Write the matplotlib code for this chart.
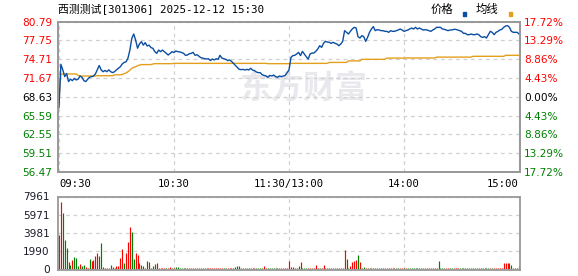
import matplotlib.pyplot as plt
from matplotlib.patches import Rectangle

# one point per minute, 09:30-11:30 then 13:01-15:00 (241 points)
price = [
    66.90, 73.90, 73.00, 71.90, 72.40, 71.10, 71.50, 71.25, 71.60, 71.36,
    71.50, 72.00, 71.80, 71.25, 71.10, 71.50, 71.80, 71.90, 72.00, 72.33,
    73.00, 73.70, 73.00, 72.70, 72.90, 72.70, 73.00, 72.70, 72.55, 72.70,
    73.00, 73.25, 73.50, 73.95, 74.20, 74.30, 74.90, 76.20, 78.10, 78.80,
    77.80, 76.50, 77.20, 77.56, 77.00, 77.40, 76.86, 77.00, 76.60, 76.48,
    75.94, 75.67, 76.20, 75.94, 76.20, 75.94, 75.67, 75.40, 75.67, 75.94,
    75.80, 76.05, 75.94, 75.90, 75.80, 75.67, 75.35, 75.40, 75.60, 75.67,
    75.83, 75.35, 75.45, 75.20, 74.97, 74.90, 74.80, 74.75, 74.80, 74.50,
    74.75, 74.60, 74.80, 74.70, 75.35, 74.90, 74.80, 74.70, 74.50, 74.60,
    74.38, 74.05, 73.73, 73.40, 73.08, 73.03, 73.08, 72.97, 73.08, 72.97,
    73.25, 72.97, 72.87, 72.65, 72.54, 72.54, 72.22, 72.10, 72.00, 71.79,
    72.10, 72.00, 72.16, 71.90, 71.79, 72.00, 71.90, 72.00, 72.10, 72.54,
    72.97, 75.00, 75.30, 75.35, 75.56, 75.83, 75.30, 75.99, 75.56, 75.13,
    74.75, 75.56, 75.72, 75.72, 75.99, 76.37, 76.91, 76.64, 77.29, 77.61,
    77.50, 77.45, 77.29, 77.45, 77.29, 77.18, 76.91, 77.18, 77.61, 79.34,
    79.07, 78.80, 79.23, 79.61, 79.88, 79.77, 78.37, 78.15, 78.53, 78.37,
    77.61, 78.26, 79.07, 79.61, 79.99, 79.34, 79.50, 79.45, 79.34, 79.34,
    79.23, 79.23, 79.07, 79.34, 79.23, 79.23, 79.34, 79.45, 79.61, 79.45,
    79.23, 79.34, 79.45, 79.61, 79.77, 79.61, 79.88, 79.61, 79.77, 79.61,
    79.45, 79.50, 79.45, 79.34, 79.23, 79.45, 79.61, 79.88, 79.88, 79.88,
    79.61, 79.55, 79.45, 79.34, 79.45, 79.45, 79.55, 79.55, 79.45, 79.34,
    79.23, 78.91, 78.91, 78.69, 78.69, 78.80, 78.69, 78.69, 78.80, 78.69,
    78.37, 78.26, 78.37, 78.15, 78.69, 79.23, 79.07, 78.69, 79.07, 79.23,
    79.45, 79.55, 79.88, 80.10, 80.15, 79.88, 79.23, 79.07, 79.07, 79.07,
    78.80,
]

avg = [
    68.30, 72.30, 72.33, 72.33, 72.33, 72.33, 72.33, 72.33, 72.33, 72.33,
    72.10, 72.00, 72.00, 72.00, 72.00, 72.00, 72.00, 72.00, 72.00, 72.00,
    72.05, 72.05, 72.05, 72.05, 72.05, 72.05, 72.05, 72.05, 72.05, 72.20,
    72.20, 72.20, 72.20, 72.25, 72.40, 72.50, 72.70, 72.95, 73.25, 73.40,
    73.50, 73.65, 73.78, 73.85, 73.85, 73.85, 73.85, 73.85, 73.85, 73.95,
    74.00, 74.00, 74.00, 74.00, 74.00, 74.00, 74.00, 74.00, 74.00, 74.00,
    74.05, 74.05, 74.05, 74.05, 74.05, 74.05, 74.05, 74.05, 74.05, 74.05,
    74.05, 74.05, 74.05, 74.05, 74.05, 74.05, 74.05, 74.05, 74.05, 74.05,
    74.05, 74.05, 74.05, 74.05, 74.05, 74.05, 74.05, 74.05, 74.05, 74.05,
    74.05, 74.05, 74.05, 74.05, 74.05, 74.05, 74.05, 74.05, 74.05, 74.05,
    74.05, 74.05, 74.05, 74.05, 74.05, 74.05, 74.05, 74.05, 74.05, 74.00,
    74.00, 74.00, 74.00, 74.00, 74.00, 74.00, 74.00, 74.00, 74.00, 74.00,
    74.00, 74.05, 74.05, 74.05, 74.05, 74.05, 74.05, 74.05, 74.05, 74.05,
    74.05, 74.05, 74.05, 74.05, 74.05, 74.05, 74.05, 74.05, 74.05, 74.05,
    74.05, 74.20, 74.20, 74.20, 74.20, 74.20, 74.20, 74.20, 74.20, 74.20,
    74.20, 74.45, 74.45, 74.45, 74.45, 74.45, 74.45, 74.45, 74.70, 74.70,
    74.70, 74.70, 74.70, 74.70, 74.70, 74.70, 74.70, 74.70, 74.70, 74.70,
    74.70, 74.90, 74.90, 74.90, 74.90, 74.90, 74.90, 74.90, 74.90, 74.90,
    74.90, 74.92, 74.92, 74.92, 74.92, 74.92, 74.92, 74.92, 74.92, 74.92,
    74.92, 74.92, 74.92, 74.92, 74.92, 74.92, 74.92, 75.06, 75.06, 75.06,
    75.06, 75.06, 75.06, 75.06, 75.06, 75.06, 75.06, 75.06, 75.06, 75.06,
    75.06, 75.06, 75.06, 75.06, 75.06, 75.06, 75.19, 75.19, 75.19, 75.19,
    75.19, 75.19, 75.19, 75.19, 75.19, 75.19, 75.19, 75.19, 75.19, 75.19,
    75.19, 75.19, 75.19, 75.35, 75.35, 75.35, 75.35, 75.35, 75.35, 75.35,
    75.35,
]

volume = [
    3690, 7370, 6190, 3130, 2280, 740, 480, 1030, 1360, 1250,
    300, 590, 300, 480, 260, 150, 1140, 850, 1030, 1470,
    1800, 1470, 2800, 260, 150, 150, 100, 480, 185, 150,
    370, 370, 1250, 2140, 700, 1700, 2910, 4570, 4020, 1140,
    1700, 1580, 700, 400, 300, 150, 920, 810, 120, 300,
    590, 700, 150, 120, 150, 150, 120, 120, 260, 120,
    120, 260, 260, 100, 150, 150, 100, 100, 100, 100,
    100, 100, 100, 100, 100, 100, 150, 100, 100, 100,
    100, 100, 100, 100, 100, 100, 120, 100, 100, 100,
    100, 150, 260, 300, 300, 150, 100, 150, 100, 100,
    100, 100, 100, 100, 100, 100, 150, 370, 100, 100,
    100, 100, 100, 100, 100, 100, 100, 100, 100, 100,
    850, 260, 260, 150, 100, 370, 810, 100, 100, 100,
    100, 100, 100, 100, 480, 100, 100, 100, 480, 100,
    150, 100, 100, 100, 100, 100, 100, 100, 120, 2030,
    1140, 100, 370, 740, 920, 1030, 1580, 740, 100, 260,
    150, 100, 100, 150, 100, 100, 100, 100, 100, 100,
    100, 120, 100, 100, 120, 100, 100, 100, 120, 100,
    100, 120, 100, 100, 100, 100, 100, 100, 100, 100,
    100, 100, 100, 100, 120, 100, 100, 120, 920, 100,
    100, 100, 100, 100, 120, 100, 100, 100, 100, 100,
    100, 100, 100, 100, 100, 100, 100, 100, 100, 100,
    100, 100, 100, 100, 150, 100, 150, 100, 120, 120,
    120, 150, 630, 700, 660, 700, 480, 100, 100, 100,
    370,
]

# r = up minute, g = down minute
vol_dir = ("rrgggrgrgg" "grggrrgrrr" "rggrrrggrr" "rrrrgrrrgg" "rrrgrggrgg"
           "grrrrrgrrg" "rgggggrrrr" "rrrggggrrr" "rrrrrrggrr" "rggggrggrg"
           "ggrggggrrg" "ggggrrrrrr" "rrrgrgrggg" "rrgrrrgrrr" "rgggggrrrr"
           "ggrrrrgrgg" "rgrrgggggg" "rrrgrrggrr" "grgggggggg" "grrrrrrrgg"
           "ggrrggrrrg" "gggggggggr" "rggggrgrrr" "rrrrrggrrr" "g")

price_ticks = [80.79, 77.75, 74.71, 71.67, 68.63, 65.59, 62.55, 59.51, 56.47]
pct_labels = ["17.72%", "13.29%", "8.86%", "4.43%", "0.00%",
              "4.43%", "8.86%", "13.29%", "17.72%"]
time_ticks = [0, 60, 120, 180, 240]
time_labels = ["09:30", "10:30", "11:30/13:00", "14:00", "15:00"]
vol_ticks = [0, 1990, 3981, 5971, 7961]

RED = "#ff0000"
GREEN = "#008000"
BLUE = "#0b4ea2"
ORANGE = "#e3a01c"
GRID = "#d0d0d0"
SPINE = "#999999"

plt.rcParams['font.family'] = ['DejaVu Sans', 'Noto Sans CJK SC']

W, H = 578, 276
fig = plt.figure(figsize=(W / 100, H / 100), dpi=100)

x = list(range(len(price)))

# ---- price panel
ax = fig.add_axes([58 / W, 1 - 172 / H, 462 / W, 150.3 / H])
ax.text(0.53, 0.55, "东方财富", transform=ax.transAxes, fontsize=23,
        fontweight="bold", color="#e8e8ed", ha="center", va="center",
        family="Noto Sans CJK SC", zorder=0.5)
ax.plot(x, price, color=BLUE, lw=1.0, zorder=3)
ax.plot(x, avg, color=ORANGE, lw=1.0, zorder=2.5)
ax.set_xlim(-0.5, 240.5)
ax.set_ylim(56.47, 80.79)
ax.set_yticks(price_ticks, ["%.2f" % v for v in price_ticks])
ax.set_xticks(time_ticks, time_labels)
ax.grid(True, ls=(0, (3, 3)), color=GRID, lw=0.9)
ax.tick_params(length=0, labelsize=7.6, pad=4)
ax.tick_params(axis="x", pad=5)
for lab in ax.get_xticklabels():
    lab.set_family("DejaVu Sans Mono")
ax.get_xticklabels()[0].set_ha("left")
ax.get_xticklabels()[-1].set_ha("right")

ax2 = ax.twinx()
ax2.set_ylim(56.47, 80.79)
ax2.set_yticks(price_ticks, pct_labels)
ax2.tick_params(length=0, labelsize=7.6, pad=3)

for labs in (ax.get_yticklabels(), ax2.get_yticklabels()):
    for i, lab in enumerate(labs):
        lab.set_color(RED if i < 4 else ("#000000" if i == 4 else GREEN))

for a in (ax, ax2):
    for s in a.spines.values():
        s.set_color(SPINE)
        s.set_linewidth(1.3)

# ---- volume panel
axv = fig.add_axes([58 / W, 1 - 270 / H, 462 / W, 73.5 / H])
axv.vlines(x, 0, volume, lw=0.85,
           colors=[RED if d == "r" else GREEN for d in vol_dir])
axv.set_xlim(-0.5, 240.5)
axv.set_ylim(-120, 7961)
axv.set_yticks(vol_ticks, [str(v) for v in vol_ticks])
axv.set_xticks([60, 120, 180])
axv.grid(True, ls=(0, (3, 3)), color=GRID, lw=0.9)
axv.set_axisbelow(True)
axv.tick_params(length=0, labelsize=7.6, pad=6, labelbottom=False,
                labelcolor="#1a1a2a")
for s in axv.spines.values():
    s.set_color(SPINE)
    s.set_linewidth(1.3)

# ---- header
fig.text(58 / W, 1 - 9 / H, "西测测试[301306] 2025-12-12 15:30",
         family=["DejaVu Sans Mono", "Noto Sans CJK SC"], fontsize=7.8,
         va="center", ha="left")
fig.text(431 / W, 1 - 9.5 / H, "价格", family="Noto Sans CJK SC",
         fontsize=8.2, va="center", ha="left")
fig.text(476 / W, 1 - 9.5 / H, "均线", family="Noto Sans CJK SC",
         fontsize=8.2, va="center", ha="left")
fig.patches.append(Rectangle((462.5 / W, 1 - 15.5 / H), 3.5 / W, 3.5 / H,
                             transform=fig.transFigure, color=BLUE))
fig.patches.append(Rectangle((508.5 / W, 1 - 15.5 / H), 3.5 / W, 3.5 / H,
                             transform=fig.transFigure, color=ORANGE))

fig.savefig("out.png", dpi=100)
